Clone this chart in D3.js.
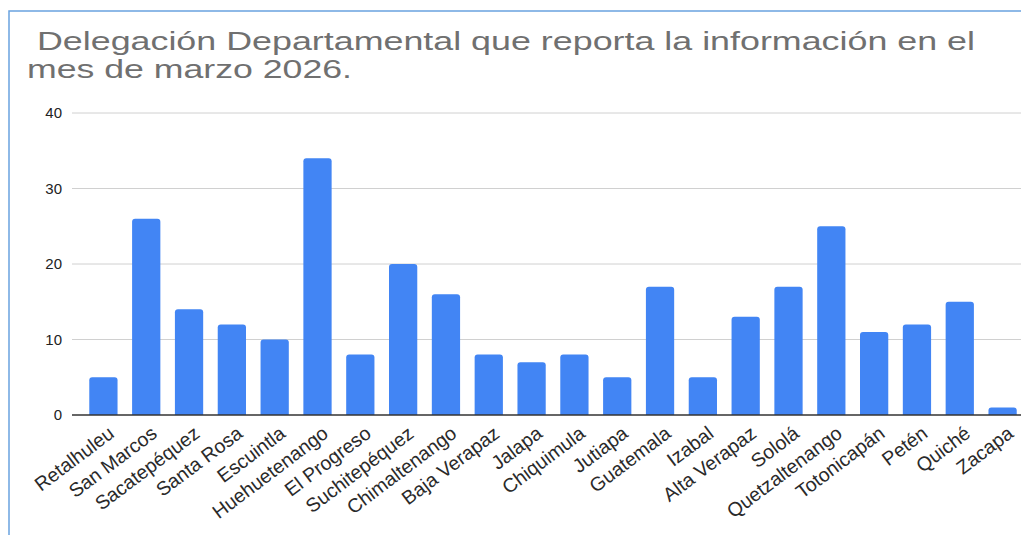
<!DOCTYPE html>
<html>
<head>
<meta charset="utf-8">
<script src="https://cdn.jsdelivr.net/npm/d3@7"></script>
<style>
  html, body { margin: 0; padding: 0; background: #fff; }
  svg { display: block; }
</style>
</head>
<body>
<svg id="chart" width="1021" height="535"></svg>
<script>
const categories = ["Retalhuleu","San Marcos","Sacatepéquez","Santa Rosa","Escuintla","Huehuetenango","El Progreso","Suchitepéquez","Chimaltenango","Baja Verapaz","Jalapa","Chiquimula","Jutiapa","Guatemala","Izabal","Alta Verapaz","Sololá","Quetzaltenango","Totonicapán","Petén","Quiché","Zacapa"];
const values = [5,26,14,12,10,34,8,20,16,8,7,8,5,17,5,13,17,25,11,12,15,1];
const yTicks = [0,10,20,30,40];
const titleLines = [" Delegación Departamental que reporta la información en el", "mes de marzo 2026."];

const svg = d3.select("#chart");
const W = 1021, H = 535;

// frame border
svg.append("rect").attr("x", 9).attr("y", 11).attr("width", W + 20).attr("height", H + 20)
  .attr("fill", "none").attr("stroke", "#6aa2e0").attr("stroke-width", 1.5);

// title
const titleG = svg.append("g");
titleG.append("text").attr("x", 27).attr("y", 50)
  .attr("font-family", "Arial, 'Liberation Sans', sans-serif").attr("font-size", 25.5)
  .attr("fill", "#707070").attr("xml:space", "preserve")
  .attr("textLength", 948).attr("lengthAdjust", "spacingAndGlyphs")
  .text(titleLines[0]);
titleG.append("text").attr("x", 27).attr("y", 78)
  .attr("font-family", "Arial, 'Liberation Sans', sans-serif").attr("font-size", 25.5)
  .attr("fill", "#707070")
  .attr("textLength", 325).attr("lengthAdjust", "spacingAndGlyphs")
  .text(titleLines[1]);

const x = d3.scaleBand().domain(categories).range([82, 1024]).paddingInner(0.34).paddingOuter(0.17);
const y = d3.scaleLinear().domain([0, 40]).range([415, 113]);

// gridlines
svg.append("g").selectAll("line").data(yTicks.filter(d => d > 0)).join("line")
  .attr("x1", 72).attr("x2", W).attr("y1", d => y(d)).attr("y2", d => y(d))
  .attr("stroke", "#d0d0d0").attr("stroke-width", 1);

// y labels
svg.append("g").selectAll("text").data(yTicks).join("text")
  .attr("x", 62).attr("y", d => y(d) + 5).attr("text-anchor", "end")
  .attr("font-family", "Arial, 'Liberation Sans', sans-serif").attr("font-size", 15)
  .attr("fill", "#222").text(d => d);

// bars with rounded top
const r = 3;
svg.append("g").selectAll("path").data(values).join("path")
  .attr("fill", "#4285f4")
  .attr("d", (d, i) => {
    const x0 = x(categories[i]), w = x.bandwidth(), yt = y(d), yb = y(0);
    const rr = Math.min(r, (yb - yt));
    return `M${x0},${yb}V${yt + rr}Q${x0},${yt} ${x0 + rr},${yt}H${x0 + w - rr}Q${x0 + w},${yt} ${x0 + w},${yt + rr}V${yb}Z`;
  });

// baseline
svg.append("line").attr("x1", 72).attr("x2", W).attr("y1", y(0)).attr("y2", y(0))
  .attr("stroke", "#333").attr("stroke-width", 1.5);

// x labels
svg.append("g").selectAll("text").data(categories).join("text")
  .attr("transform", d => `translate(${x(d) + x.bandwidth() / 2 + 12},${y(0) + 21}) rotate(-37)`)
  .attr("text-anchor", "end")
  .attr("font-family", "Arial, 'Liberation Sans', sans-serif").attr("font-size", 19.5)
  .attr("fill", "#2a2a2a").text(d => d);
</script>
</body>
</html>
